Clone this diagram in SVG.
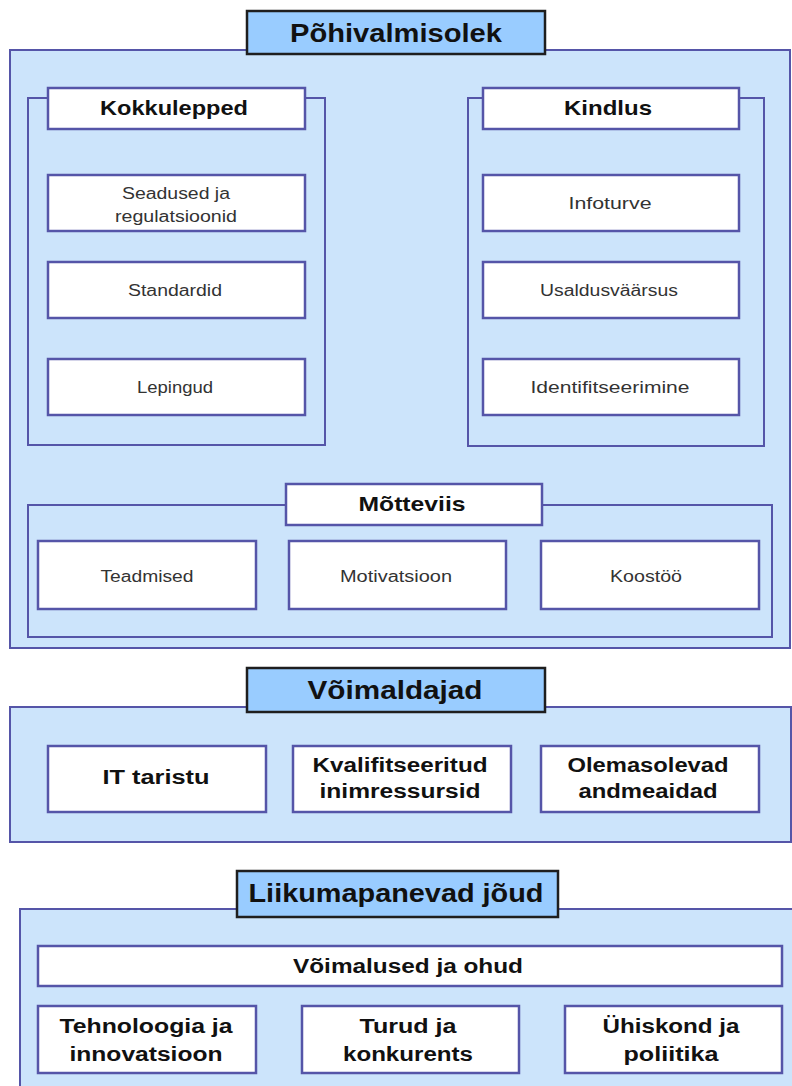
<svg xmlns="http://www.w3.org/2000/svg" width="792" height="1086" viewBox="0 0 792 1086">
<style>
.panel{fill:#cce4fb;stroke:#5555a8;stroke-width:2}
.group{fill:none;stroke:#5555a8;stroke-width:2}
.box{fill:#ffffff;stroke:#5555a8;stroke-width:2.5}
.title{fill:#99ccff;stroke:#1e1e1e;stroke-width:2.5}
text{font-family:"Liberation Sans",Arial,sans-serif;text-anchor:middle}
.t{font-size:25px;font-weight:bold;fill:#111}
.h{font-size:21px;font-weight:bold;fill:#111}
.s{font-size:16px;fill:#333}
.b{font-size:20px;font-weight:bold;fill:#111}
</style>
<rect width="792" height="1086" fill="#ffffff"/>

<g id="pohivalmisolek">
  <rect class="panel" x="10" y="50" width="780" height="598"/>
  <rect class="title" x="247" y="11" width="298" height="43"/>
  <text class="t" x="396" y="42" textLength="212" lengthAdjust="spacingAndGlyphs">Põhivalmisolek</text>
</g>

<g id="kokkulepped">
  <rect class="group" x="28" y="98" width="297" height="347"/>
  <rect class="box" x="48" y="88" width="257" height="41"/>
  <text class="h" x="174" y="115" textLength="148" lengthAdjust="spacingAndGlyphs">Kokkulepped</text>
</g>
<g id="seadused">
  <rect class="box" x="48" y="175" width="257" height="56"/>
  <text class="s" x="176" y="199" textLength="108" lengthAdjust="spacingAndGlyphs">Seadused ja</text>
  <text class="s" x="176" y="222" textLength="122" lengthAdjust="spacingAndGlyphs">regulatsioonid</text>
</g>
<g id="standardid">
  <rect class="box" x="48" y="262" width="257" height="56"/>
  <text class="s" x="175" y="296" textLength="94" lengthAdjust="spacingAndGlyphs">Standardid</text>
</g>
<g id="lepingud">
  <rect class="box" x="48" y="359" width="257" height="56"/>
  <text class="s" x="175" y="393" textLength="76" lengthAdjust="spacingAndGlyphs">Lepingud</text>
</g>

<g id="kindlus">
  <rect class="group" x="468" y="98" width="296" height="348"/>
  <rect class="box" x="483" y="88" width="256" height="41"/>
  <text class="h" x="608" y="115" textLength="88" lengthAdjust="spacingAndGlyphs">Kindlus</text>
</g>
<g id="infoturve">
  <rect class="box" x="483" y="175" width="256" height="56"/>
  <text class="s" x="610" y="209" textLength="83" lengthAdjust="spacingAndGlyphs">Infoturve</text>
</g>
<g id="usaldusvaarsus">
  <rect class="box" x="483" y="262" width="256" height="56"/>
  <text class="s" x="609" y="296" textLength="138" lengthAdjust="spacingAndGlyphs">Usaldusväärsus</text>
</g>
<g id="identifitseerimine">
  <rect class="box" x="483" y="359" width="256" height="56"/>
  <text class="s" x="610" y="393" textLength="159" lengthAdjust="spacingAndGlyphs">Identifitseerimine</text>
</g>

<g id="motteviis">
  <rect class="group" x="28" y="505" width="744" height="132"/>
  <rect class="box" x="286" y="484" width="256" height="41"/>
  <text class="h" x="412" y="511" textLength="107" lengthAdjust="spacingAndGlyphs">Mõtteviis</text>
</g>
<g id="teadmised">
  <rect class="box" x="38" y="541" width="218" height="68"/>
  <text class="s" x="147" y="582" textLength="93" lengthAdjust="spacingAndGlyphs">Teadmised</text>
</g>
<g id="motivatsioon">
  <rect class="box" x="289" y="541" width="217" height="68"/>
  <text class="s" x="396" y="582" textLength="112" lengthAdjust="spacingAndGlyphs">Motivatsioon</text>
</g>
<g id="koostoo">
  <rect class="box" x="541" y="541" width="218" height="68"/>
  <text class="s" x="646" y="582" textLength="72" lengthAdjust="spacingAndGlyphs">Koostöö</text>
</g>

<g id="voimaldajad">
  <rect class="panel" x="10" y="707" width="781" height="135"/>
  <rect class="title" x="247" y="668" width="298" height="44"/>
  <text class="t" x="395" y="699" textLength="175" lengthAdjust="spacingAndGlyphs">Võimaldajad</text>
</g>
<g id="it-taristu">
  <rect class="box" x="48" y="746" width="218" height="66"/>
  <text class="b" x="156" y="784" textLength="107" lengthAdjust="spacingAndGlyphs">IT taristu</text>
</g>
<g id="kvalifitseeritud">
  <rect class="box" x="293" y="746" width="218" height="66"/>
  <text class="b" x="400" y="772" textLength="175" lengthAdjust="spacingAndGlyphs">Kvalifitseeritud</text>
  <text class="b" x="400" y="798" textLength="161" lengthAdjust="spacingAndGlyphs">inimressursid</text>
</g>
<g id="olemasolevad">
  <rect class="box" x="541" y="746" width="218" height="66"/>
  <text class="b" x="648" y="772" textLength="161" lengthAdjust="spacingAndGlyphs">Olemasolevad</text>
  <text class="b" x="648" y="798" textLength="139" lengthAdjust="spacingAndGlyphs">andmeaidad</text>
</g>

<g id="liikumapanevad">
  <rect class="panel" x="20" y="909" width="790" height="200"/>
  <rect class="title" x="237" y="871" width="321" height="46"/>
  <text class="t" x="396" y="902" textLength="295" lengthAdjust="spacingAndGlyphs">Liikumapanevad jõud</text>
</g>
<g id="voimalused">
  <rect class="box" x="38" y="946" width="744" height="40"/>
  <text class="b" x="408" y="973" textLength="230" lengthAdjust="spacingAndGlyphs">Võimalused ja ohud</text>
</g>
<g id="tehnoloogia">
  <rect class="box" x="38" y="1006" width="218" height="67"/>
  <text class="b" x="146" y="1033" textLength="173" lengthAdjust="spacingAndGlyphs">Tehnoloogia ja</text>
  <text class="b" x="146" y="1061" textLength="153" lengthAdjust="spacingAndGlyphs">innovatsioon</text>
</g>
<g id="turud">
  <rect class="box" x="302" y="1006" width="217" height="67"/>
  <text class="b" x="408" y="1033" textLength="97" lengthAdjust="spacingAndGlyphs">Turud ja</text>
  <text class="b" x="408" y="1061" textLength="130" lengthAdjust="spacingAndGlyphs">konkurents</text>
</g>
<g id="uhiskond">
  <rect class="box" x="565" y="1006" width="217" height="67"/>
  <text class="b" x="671" y="1033" textLength="137" lengthAdjust="spacingAndGlyphs">Ühiskond ja</text>
  <text class="b" x="671" y="1061" textLength="95" lengthAdjust="spacingAndGlyphs">poliitika</text>
</g>

<g id="connectors"></g>
</svg>
